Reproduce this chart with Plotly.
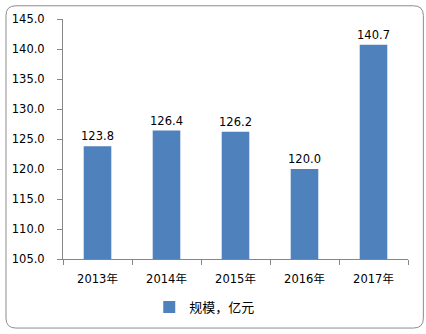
import plotly.graph_objects as go

categories = ["2013年", "2014年", "2015年", "2016年", "2017年"]
values = [123.8, 126.4, 126.2, 120.0, 140.7]
series_name = "规模，亿元"

W, H = 426, 334
L, R, T, B = 60, 18, 16, 73
pw, ph = W - L - R, H - T - B

def px(x):
    return (x - L) / pw

def py(y):
    return (H - B - y) / ph

font = "DejaVu Sans, Noto Sans CJK SC, sans-serif"

fig = go.Figure()
fig.add_trace(go.Bar(
    x=categories, y=values, name=series_name,
    marker=dict(color="#4F81BD", line=dict(width=0)),
    width=0.4,
    text=[f"{v:.1f}" for v in values], textposition="outside",
    textfont=dict(family=font, size=11.5, color="#000000"),
    constraintext="none",
    cliponaxis=False,
))

# rounded border around the whole chart
x0, x1, y0, y1, r = 2.5, 423.5, 2.5, 331.5, 10
path = (f"M {px(x0+r)},{py(y0)} L {px(x1-r)},{py(y0)} Q {px(x1)},{py(y0)} {px(x1)},{py(y0+r)} "
        f"L {px(x1)},{py(y1-r)} Q {px(x1)},{py(y1)} {px(x1-r)},{py(y1)} "
        f"L {px(x0+r)},{py(y1)} Q {px(x0)},{py(y1)} {px(x0)},{py(y1-r)} "
        f"L {px(x0)},{py(y0+r)} Q {px(x0)},{py(y0)} {px(x0+r)},{py(y0)} Z")
fig.add_shape(type="path", path=path, xref="paper", yref="paper",
              line=dict(color="#8C8C8C", width=1), layer="below")

fig.update_layout(
    width=W, height=H,
    margin=dict(l=L, r=R, t=T, b=B),
    paper_bgcolor="white", plot_bgcolor="white",
    font=dict(family=font, size=11.5, color="#000000"),
    showlegend=True,
    legend=dict(orientation="h", x=px(147), y=py(310), xanchor="left", yanchor="middle",
                font=dict(family=font, size=13), bgcolor="rgba(0,0,0,0)"),
    bargap=0.6,
)
fig.update_yaxes(range=[105, 145], dtick=5, tickformat=".1f",
                 showgrid=False, zeroline=False,
                 showline=True, linecolor="#868686", linewidth=1,
                 ticks="outside", ticklen=5, tickcolor="#868686",
                 ticklabelstandoff=10,
                 tickfont=dict(family=font, size=11.5))
fig.update_xaxes(showgrid=False, showline=True, linecolor="#868686", linewidth=1,
                 ticks="outside", ticklen=5, tickcolor="#868686", tickson="boundaries",
                 ticklabelstandoff=9,
                 tickfont=dict(family=font, size=11.5))

fig.write_html("out.html")
